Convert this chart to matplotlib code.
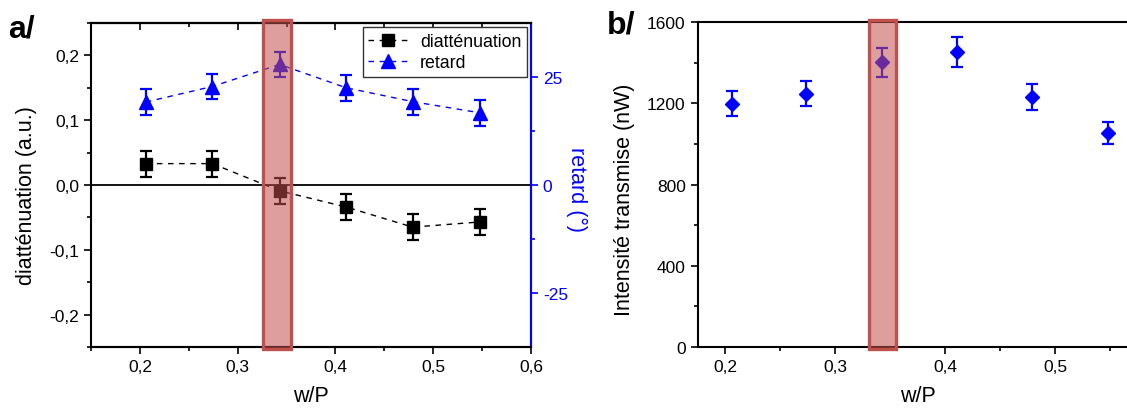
import numpy as np
import matplotlib.pyplot as plt
from matplotlib.patches import Rectangle
from matplotlib.ticker import FuncFormatter
from matplotlib.transforms import blended_transform_factory

plt.rcParams['font.family'] = ['Liberation Sans', 'DejaVu Sans']
plt.rcParams['axes.unicode_minus'] = False

# data
w_p = [0.206, 0.274, 0.343, 0.411, 0.479, 0.548]
diatt = [0.033, 0.033, -0.009, -0.034, -0.065, -0.057]
diatt_err = [0.02, 0.02, 0.02, 0.02, 0.02, 0.02]
retard = [19.2, 22.8, 27.9, 22.5, 19.3, 16.7]
retard_err = [3.0, 3.0, 3.0, 3.0, 3.0, 3.0]
intensity = [1199, 1247, 1402, 1453, 1231, 1054]
intensity_err = [60, 62, 72, 73, 64, 55]
band_a = (0.326, 0.355)
band_b = (0.331, 0.355)

RED = '#c0504d'
W, H = 1127, 410


def comma(v, pos):
    return f"{v:.1f}".replace('.', ',')


def style_ticks(ax):
    ax.tick_params(which='both', direction='out', width=1.2, labelsize=12.5)
    ax.tick_params(which='major', length=5)
    ax.tick_params(which='minor', length=3)
    for s in ax.spines.values():
        s.set_linewidth(1.5)


def add_band(ax, band):
    tr = blended_transform_factory(ax.transData, ax.transAxes)
    x0, x1 = band
    ax.add_patch(Rectangle((x0, -0.006), x1 - x0, 1.014, transform=tr,
                           facecolor=RED, alpha=0.55, edgecolor='none',
                           clip_on=False, zorder=20))
    ax.add_patch(Rectangle((x0, -0.006), x1 - x0, 1.014, transform=tr,
                           facecolor='none', edgecolor=RED, lw=2.4,
                           clip_on=False, zorder=21))


fig = plt.figure(figsize=(W / 100, H / 100), dpi=100)

# ---- panel a
ax = fig.add_axes([91 / W, 62 / H, 440 / W, 324 / H])
ax2 = ax.twinx()

ax.axhline(0, color='black', lw=1.3, zorder=1)
ax.errorbar(w_p, diatt, yerr=diatt_err, fmt='none', ecolor='black',
            elinewidth=1.6, capsize=4.5, capthick=1.6, zorder=3)
l1, = ax.plot(w_p, diatt, ls=(0, (4, 4)), lw=1, color='black',
              marker='s', ms=8, zorder=4)
ax2.errorbar(w_p, retard, yerr=retard_err, fmt='none', ecolor='blue',
             elinewidth=1.6, capsize=4.5, capthick=1.6, zorder=3)
l2, = ax2.plot(w_p, retard, ls=(0, (4, 4)), lw=1, color='blue',
               marker='^', ms=10, zorder=4)

ax.set_xlim(0.15, 0.6)
ax.set_ylim(-0.25, 0.25)
ax2.set_ylim(-37.5, 37.5)
ax.set_xticks(np.arange(0.2, 0.61, 0.1))
ax.set_xticks(np.arange(0.15, 0.6, 0.1), minor=True)
ax.set_yticks([-0.2, -0.1, 0.0, 0.1, 0.2])
ax.set_yticks([-0.25, -0.15, -0.05, 0.05, 0.15, 0.25], minor=True)
ax.xaxis.set_major_formatter(FuncFormatter(comma))
ax.yaxis.set_major_formatter(FuncFormatter(comma))
ax2.set_yticks([-25, 0, 25])
ax2.set_yticks([-12.5, 12.5], minor=True)
style_ticks(ax)
style_ticks(ax2)
ax2.tick_params(axis='y', which='both', colors='blue')
ax2.spines['right'].set_color('blue')
ax2.spines['left'].set_visible(False)

top = ax.secondary_xaxis('top')
top.set_xticks(np.arange(0.2, 0.61, 0.1))
top.set_xticks(np.arange(0.15, 0.6, 0.1), minor=True)
top.tick_params(which='both', direction='in', labeltop=False, width=1.2)
top.tick_params(which='major', length=5)
top.tick_params(which='minor', length=3)
top.spines['top'].set_linewidth(1.5)

ax.set_xlabel('w/P', fontsize=15.5)
ax.xaxis.set_label_coords(0.5, -0.117)
ax.set_ylabel('diatténuation (a.u.)', fontsize=15.5)
ax.yaxis.set_label_coords(-0.123, 0.47)
ax2.set_ylabel('retard (°)', fontsize=15.5, color='blue', rotation=270,
               va='bottom')
ax2.yaxis.set_label_coords(1.08, 0.49)

leg = ax2.legend([l1, l2], ['diatténuation', 'retard'],
                 loc='upper right', fontsize=12.8, frameon=True,
                 fancybox=False, framealpha=1, edgecolor='#333333',
                 handlelength=2.2, handletextpad=0.7, borderpad=0.3,
                 labelspacing=0.25, borderaxespad=0.25, numpoints=1)
leg.get_frame().set_linewidth(1.0)
leg.set_zorder(30)

add_band(ax2, band_a)

# ---- panel b
axb = fig.add_axes([697.5 / W, 62.3 / H, 440 / W, 324.4 / H])
axb.errorbar(w_p, intensity, yerr=intensity_err, fmt='none', ecolor='blue',
             elinewidth=1.6, capsize=4.5, capthick=1.6, zorder=3)
axb.plot(w_p, intensity, ls='none', color='blue', marker='D', ms=7.5,
         zorder=4)
axb.set_xlim(0.175, 0.575)
axb.set_ylim(0, 1600)
axb.set_xticks(np.arange(0.2, 0.56, 0.1))
axb.set_xticks(np.arange(0.25, 0.6, 0.1), minor=True)
axb.set_yticks(np.arange(0, 1601, 400))
axb.set_yticks(np.arange(200, 1600, 400), minor=True)
axb.xaxis.set_major_formatter(FuncFormatter(comma))
style_ticks(axb)
axb.set_xlabel('w/P', fontsize=15.5)
axb.xaxis.set_label_coords(0.5, -0.117)
axb.set_ylabel('Intensité transmise (nW)', fontsize=15.5)
axb.yaxis.set_label_coords(-0.142, 0.457)
add_band(axb, band_b)

fig.text(8 / W, 1 - 37.5 / H, 'a/', fontsize=23, fontweight='bold',
         va='baseline')
fig.text(607 / W, 1 - 33.3 / H, 'b/', fontsize=23, fontweight='bold',
         va='baseline')

fig.savefig('out.png', dpi=100)
